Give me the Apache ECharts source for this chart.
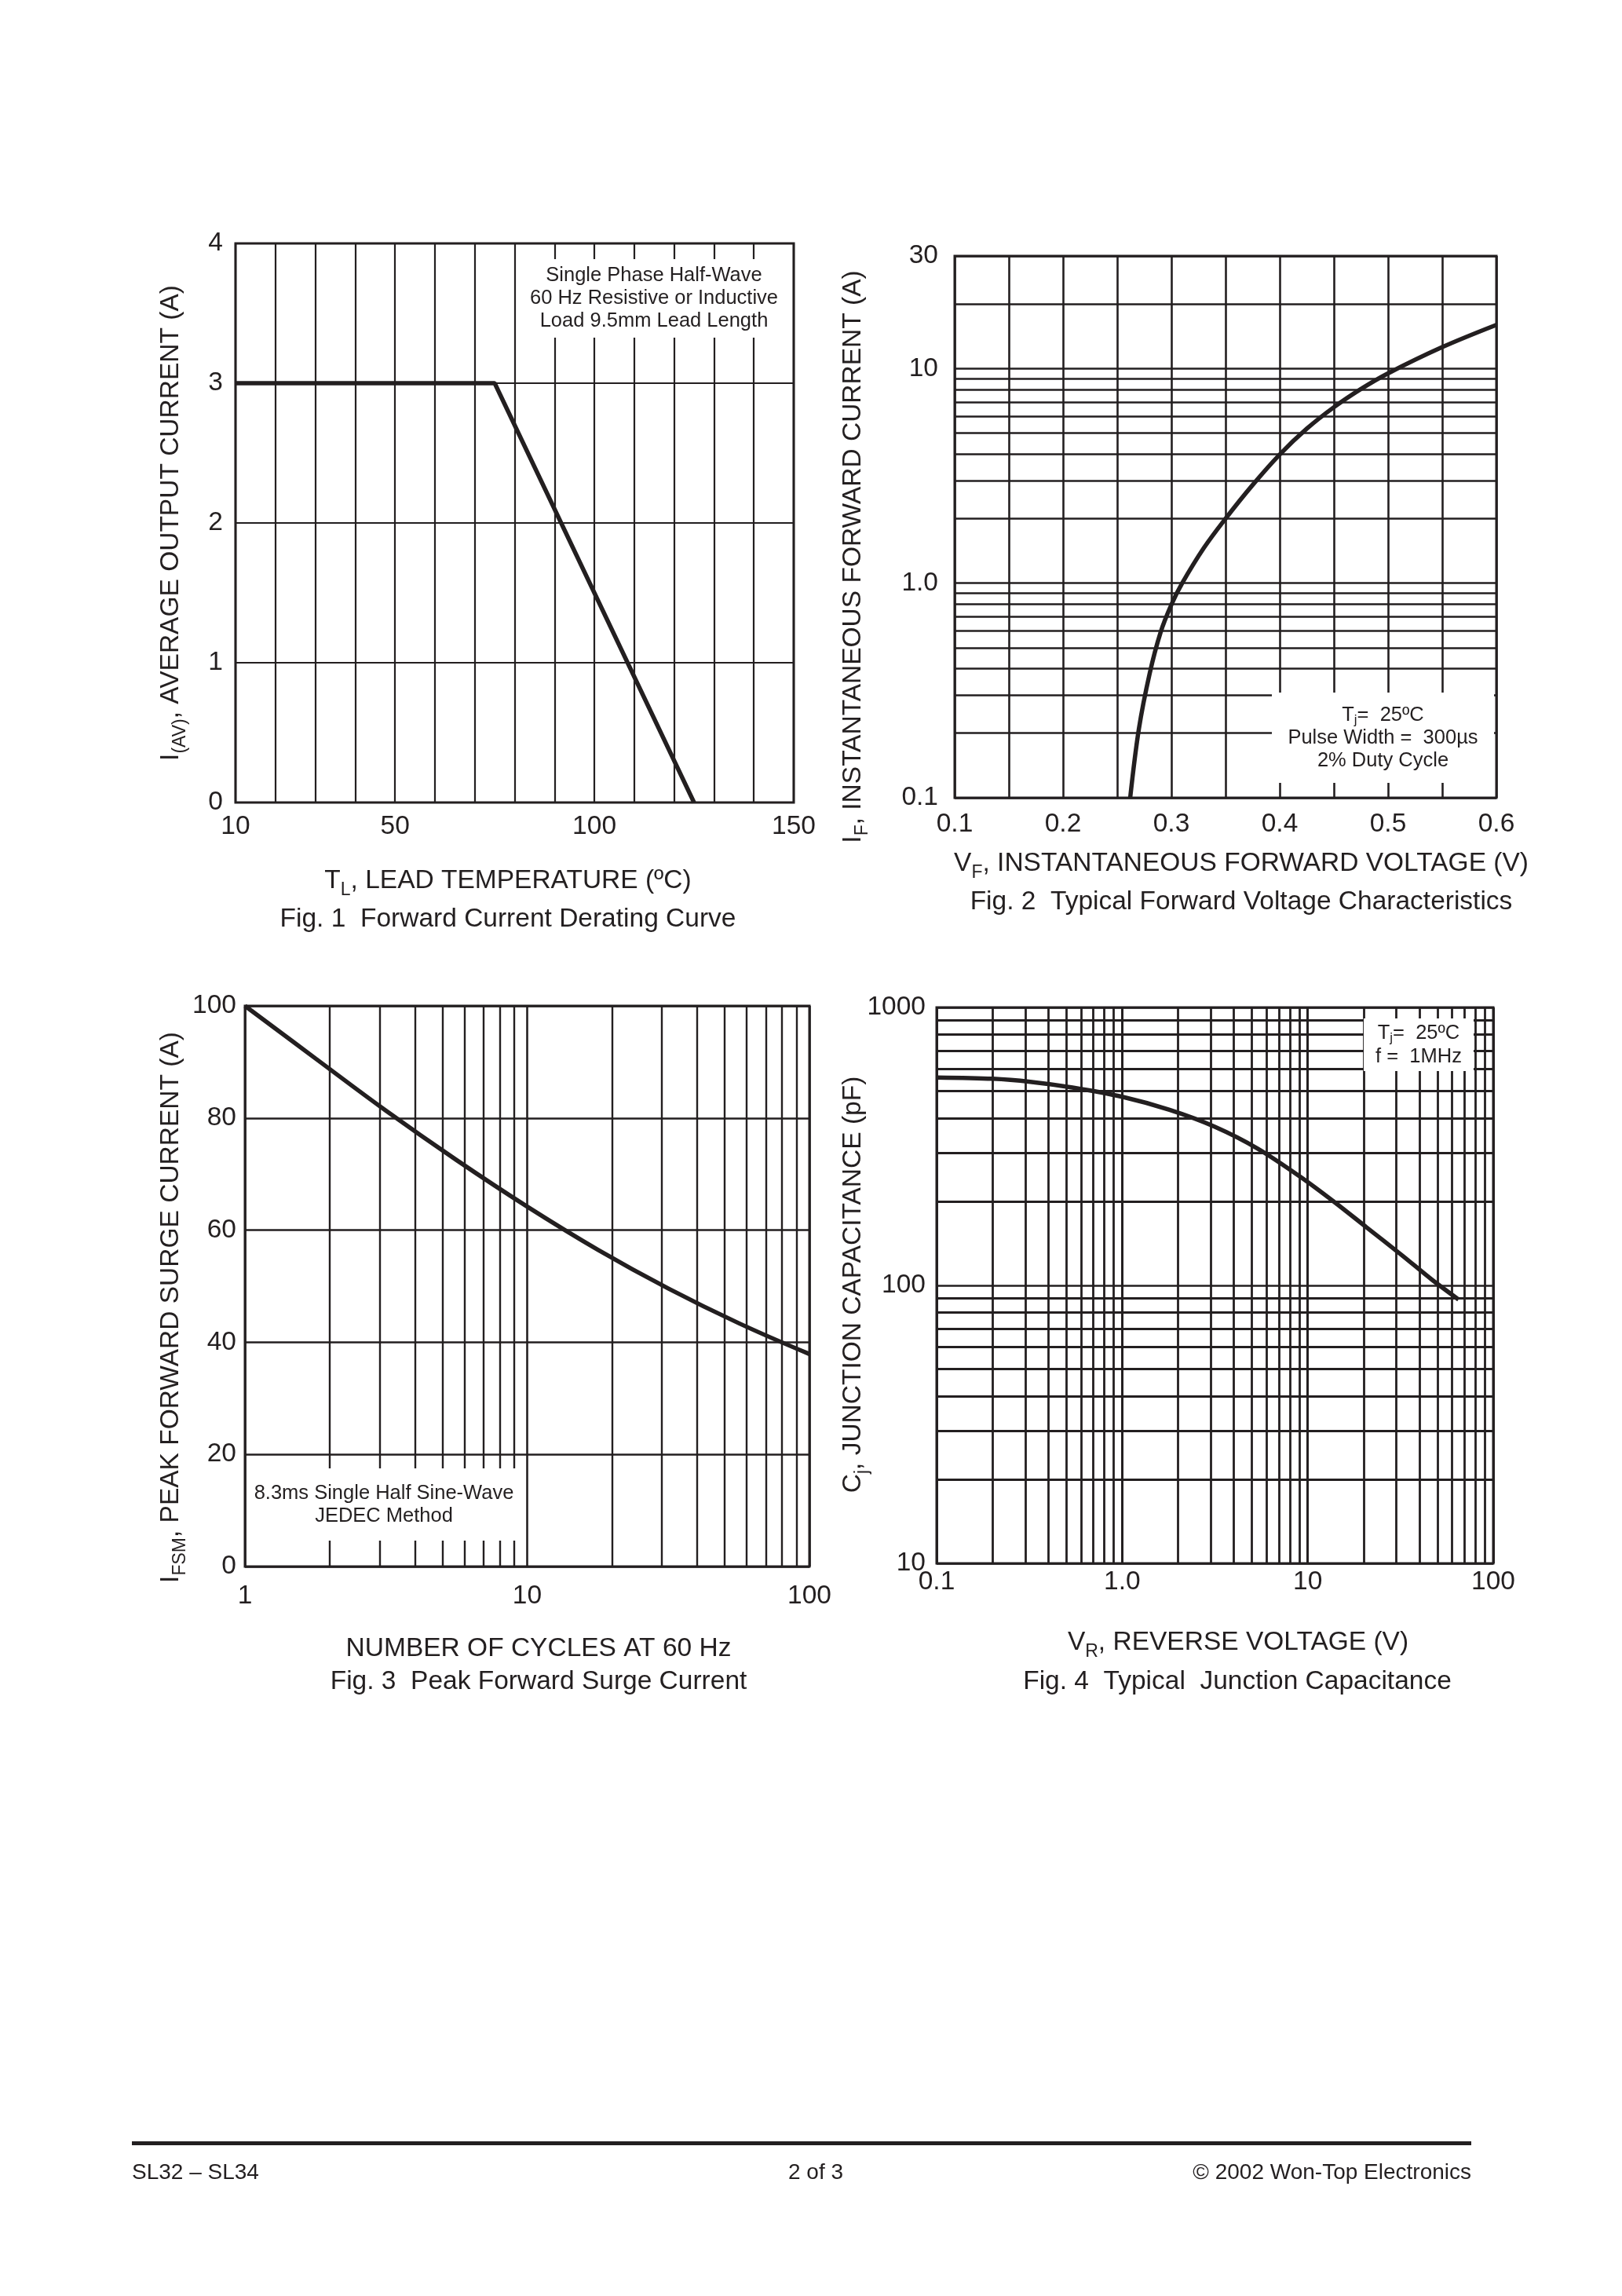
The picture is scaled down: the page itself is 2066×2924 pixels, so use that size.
<!DOCTYPE html>
<html>
<head>
<meta charset="utf-8">
<title>SL32 - SL34 characteristics</title>
<script src="https://cdn.jsdelivr.net/npm/echarts@6/dist/echarts.min.js"></script>
<style>
  html, body { margin: 0; padding: 0; background: #fff; }
  #page { width: 2066px; height: 2924px; }
</style>
</head>
<body>
<div id="page"></div>
<script>
// Fig. 1 derating curve
var leadTemp = [10, 75, 125];
var avgCurrent = [3, 3, 0];

// Fig. 2 forward voltage
var fwdVoltage = [0.262, 0.27, 0.28, 0.29, 0.30, 0.31, 0.33, 0.35, 0.375, 0.40, 0.425, 0.45, 0.475, 0.50, 0.55, 0.60];
var fwdCurrent = [0.1, 0.209, 0.38, 0.589, 0.794, 1.0, 1.46, 2.0, 2.87, 3.98, 5.25, 6.61, 8.04, 9.51, 12.6, 16.0];

// Fig. 3 surge current
var cycles = [1, 1.78, 3.16, 5.62, 10, 17.8, 31.6, 56.2, 100];
var surgeCurrent = [100, 90.6, 81.3, 72.5, 64.2, 56.5, 49.6, 43.4, 37.9];

// Fig. 4 junction capacitance
var revVoltage = [0.1, 0.2, 0.32, 0.54, 1.0, 1.8, 3.16, 5.4, 9.2, 14, 20.7, 32.4, 46.6, 65];
var capacitance = [560, 554, 540, 515, 477, 428, 372, 310, 245, 199, 162, 128, 105, 89];

// tick labels shown
var fig1XLabels = [10, 50, 100, 150];
var fig2YLabels = ["0.1", "1.0", "10", "30"];
var fig4XLabels = ["0.1", "1.0", "10", "100"];

// minor grid lines on log axes
var fig2YMinor = [0.2, 0.3, 0.4, 0.5, 0.6, 0.7, 0.8, 0.9, 2, 3, 4, 5, 6, 7, 8, 9, 20];
var fig3XMinor = [2, 3, 4, 5, 6, 7, 8, 9, 20, 30, 40, 50, 60, 70, 80, 90];
var fig4XMinor = [0.2, 0.3, 0.4, 0.5, 0.6, 0.7, 0.8, 0.9, 2, 3, 4, 5, 6, 7, 8, 9, 20, 30, 40, 50, 60, 70, 80, 90];
var fig4YMinor = [20, 30, 40, 50, 60, 70, 80, 90, 200, 300, 400, 500, 600, 700, 800, 900];

var FONT = "Liberation Sans, Arial, Helvetica, sans-serif";
var INK = "#231f20";
var FS = 33.5; // main text size

function pairs(xs, ys) {
  return xs.map(function (x, i) { return [x, ys[i]]; });
}

function gridLines(xs, ys, w) {
  var data = [];
  (xs || []).forEach(function (v) { data.push({ xAxis: v }); });
  (ys || []).forEach(function (v) { data.push({ yAxis: v }); });
  return {
    silent: true,
    symbol: ["none", "none"],
    label: { show: false },
    lineStyle: { color: INK, type: "solid", width: w },
    emphasis: { disabled: true },
    data: data
  };
}

function label(margin) {
  return { color: INK, fontSize: FS, fontFamily: FONT, margin: margin };
}

function split(w) {
  return { show: true, lineStyle: { color: INK, width: w } };
}

var rich = {
  n: { fontSize: FS, fontFamily: FONT, fill: INK, lineHeight: 46, verticalAlign: "middle" },
  s: { fontSize: 23, fontFamily: FONT, fill: INK, lineHeight: 19, verticalAlign: "bottom" },
  an: { fontSize: 25.5, fontFamily: FONT, fill: INK, lineHeight: 30, verticalAlign: "middle" },
  as: { fontSize: 17, fontFamily: FONT, fill: INK, lineHeight: 12, verticalAlign: "bottom" }
};

function text(x, y, str, rot) {
  return {
    type: "text", x: x, y: y, rotation: rot ? Math.PI / 2 : 0, z: 60,
    style: { text: str, rich: rich, fontSize: FS, fontFamily: FONT, fill: INK, align: "center", verticalAlign: "middle" }
  };
}

function noteBox(x, y, w, h, lines) {
  return {
    type: "group", x: x, y: y, z: 50,
    children: [
      { type: "rect", z: 50, shape: { x: 0, y: 0, width: w, height: h }, style: { fill: "#fff" } },
      {
        type: "text", z: 51, x: w / 2, y: h / 2,
        style: { text: lines.join("\n"), rich: rich, fontSize: 25.5, fontFamily: FONT, fill: INK, lineHeight: 29, align: "center", verticalAlign: "middle" }
      }
    ]
  };
}

var chart = echarts.init(document.getElementById("page"), null, { renderer: "canvas" });

var option = {
  animation: false,
  backgroundColor: "#fff",
  grid: [
    { left: 300, top: 310, width: 711, height: 712, show: true, borderColor: INK, borderWidth: 3, outerBoundsMode: "none" },
    { left: 1216, top: 326, width: 690, height: 690, show: true, borderColor: INK, borderWidth: 3, outerBoundsMode: "none" },
    { left: 312, top: 1281, width: 719, height: 714, show: true, borderColor: INK, borderWidth: 3, outerBoundsMode: "none" },
    { left: 1193, top: 1283, width: 709, height: 708, show: true, borderColor: INK, borderWidth: 3, outerBoundsMode: "none" }
  ],
  xAxis: [
    {
      gridIndex: 0, type: "value", min: 10, max: 150, interval: 10,
      axisLine: { show: false }, axisTick: { show: false }, splitLine: split(2.2),
      axisLabel: Object.assign(label(14), {
        formatter: function (v) { return fig1XLabels.indexOf(Math.round(v)) >= 0 ? String(Math.round(v)) : ""; }
      })
    },
    {
      gridIndex: 1, type: "value", min: 0.1, max: 0.6, interval: 0.05,
      axisLine: { show: false }, axisTick: { show: false }, splitLine: split(2.6),
      axisLabel: Object.assign(label(17), {
        formatter: function (v) { var r = Math.round(v * 100); return r % 10 === 0 ? (r / 100).toFixed(1) : ""; }
      })
    },
    {
      gridIndex: 2, type: "log", logBase: 10, min: 1, max: 100,
      axisLine: { show: false }, axisTick: { show: false }, splitLine: split(2.6),
      axisLabel: Object.assign(label(21), { formatter: function (v) { return String(Math.round(v)); } })
    },
    {
      gridIndex: 3, type: "log", logBase: 10, min: 0.1, max: 100,
      axisLine: { show: false }, axisTick: { show: false }, splitLine: split(3),
      axisLabel: Object.assign(label(7), {
        formatter: function (v) { var k = Math.round(Math.log10(v)) + 1; return fig4XLabels[k] || ""; }
      })
    }
  ],
  yAxis: [
    {
      gridIndex: 0, type: "value", min: 0, max: 4, interval: 1,
      axisLine: { show: false }, axisTick: { show: false }, splitLine: split(2.2),
      axisLabel: label(16)
    },
    {
      // the printed grid puts its top edge (labelled 30) a bit above 30 on a true log scale
      gridIndex: 1, type: "log", logBase: 10, min: 0.1, max: 33.5,
      axisLine: { show: false }, axisTick: { show: false }, splitLine: split(2.6),
      axisLabel: Object.assign(label(21), {
        formatter: function (v) {
          if (v > 15) return fig2YLabels[3];
          var k = Math.round(Math.log10(v)) + 1;
          return fig2YLabels[k] || "";
        }
      })
    },
    {
      gridIndex: 2, type: "value", min: 0, max: 100, interval: 20,
      axisLine: { show: false }, axisTick: { show: false }, splitLine: split(2.6),
      axisLabel: label(11)
    },
    {
      gridIndex: 3, type: "log", logBase: 10, min: 10, max: 1000,
      axisLine: { show: false }, axisTick: { show: false }, splitLine: split(2.6),
      axisLabel: Object.assign(label(14), { formatter: function (v) { return String(Math.round(v)); } })
    }
  ],
  series: [
    {
      type: "line", xAxisIndex: 0, yAxisIndex: 0, data: pairs(leadTemp, avgCurrent),
      symbol: "none", lineStyle: { color: INK, width: 5.5 }, z: 3
    },
    {
      type: "line", xAxisIndex: 1, yAxisIndex: 1, data: pairs(fwdVoltage, fwdCurrent),
      symbol: "none", smooth: 0.35, lineStyle: { color: INK, width: 5.5 }, z: 3,
      markLine: gridLines(null, fig2YMinor, 2.6)
    },
    {
      type: "line", xAxisIndex: 2, yAxisIndex: 2, data: pairs(cycles, surgeCurrent),
      symbol: "none", smooth: 0.4, lineStyle: { color: INK, width: 5.5 }, z: 3,
      markLine: gridLines(fig3XMinor, null, 2.4)
    },
    {
      type: "line", xAxisIndex: 3, yAxisIndex: 3, data: pairs(revVoltage, capacitance),
      symbol: "none", smooth: 0.3, lineStyle: { color: INK, width: 5.5 }, z: 3,
      markLine: gridLines(fig4XMinor, fig4YMinor, 2.8)
    }
  ],
  graphic: [
    // axis titles and captions
    text(218, 666, "{n|I}{s|(AV)}{n|, AVERAGE OUTPUT CURRENT (A)}", true),
    text(647, 1122, "{n|T}{s|L}{n|, LEAD TEMPERATURE (ºC)}"),
    text(647, 1171, "Fig. 1  Forward Current Derating Curve"),

    text(1087, 709, "{n|I}{s|F}{n|, INSTANTANEOUS FORWARD CURRENT (A)}", true),
    text(1581, 1100, "{n|V}{s|F}{n|, INSTANTANEOUS FORWARD VOLTAGE (V)}"),
    text(1581, 1149, "Fig. 2  Typical Forward Voltage Characteristics"),

    text(218, 1665, "{n|I}{s|FSM}{n|, PEAK FORWARD SURGE CURRENT (A)}", true),
    text(686, 2100, "NUMBER OF CYCLES AT 60 Hz"),
    text(686, 2142, "Fig. 3  Peak Forward Surge Current"),

    text(1087, 1636, "{n|C}{s|j}{n|, JUNCTION CAPACITANCE (pF)}", true),
    text(1577, 2092, "{n|V}{s|R}{n|, REVERSE VOLTAGE (V)}"),
    text(1576, 2142, "Fig. 4  Typical  Junction Capacitance"),

    // notes
    noteBox(664, 330, 338, 100, ["Single Phase Half-Wave", "60 Hz Resistive or Inductive", "Load 9.5mm Lead Length"]),
    noteBox(1620, 882, 283, 115, ["{an|T}{as|j}{an|=  25ºC}", "Pulse Width =  300µs", "2% Duty Cycle"]),
    noteBox(314, 1870, 350, 92, ["8.3ms Single Half Sine-Wave", "JEDEC Method"]),
    noteBox(1737, 1297, 140, 67, ["{an|T}{as|j}{an|=  25ºC}", "f =  1MHz"]),

    // footer
    { type: "rect", z: 60, shape: { x: 168, y: 2727, width: 1706, height: 5 }, style: { fill: INK } },
    { type: "text", z: 60, x: 168, y: 2767, style: { text: "SL32 – SL34", fontSize: 28, fontFamily: FONT, fill: INK, align: "left", verticalAlign: "middle" } },
    { type: "text", z: 60, x: 1039, y: 2767, style: { text: "2 of 3", fontSize: 28, fontFamily: FONT, fill: INK, align: "center", verticalAlign: "middle" } },
    { type: "text", z: 60, x: 1874, y: 2767, style: { text: "© 2002 Won-Top Electronics", fontSize: 28, fontFamily: FONT, fill: INK, align: "right", verticalAlign: "middle" } }
  ]
};

chart.setOption(option);
</script>
</body>
</html>
